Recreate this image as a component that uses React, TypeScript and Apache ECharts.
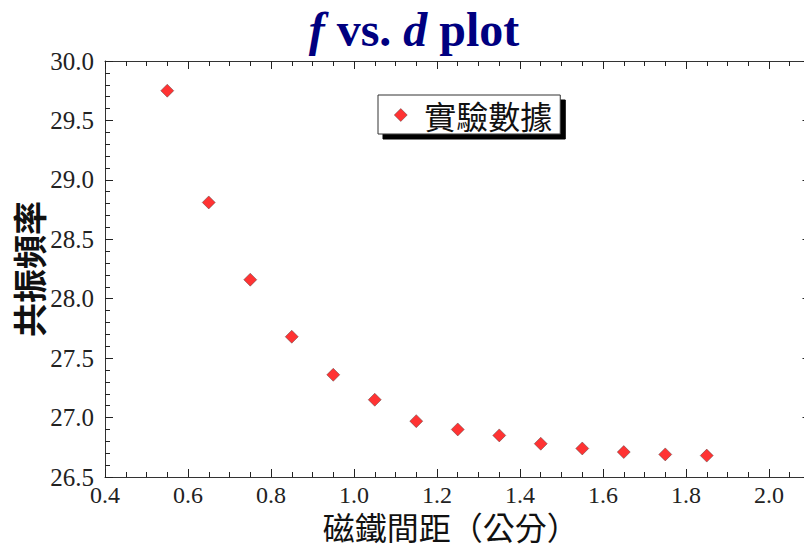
import React, { useEffect, useRef } from "react";
import * as echarts from "echarts";

const distances = [0.55, 0.65, 0.75, 0.85, 0.95, 1.05, 1.15, 1.25, 1.35, 1.45, 1.55, 1.65, 1.75, 1.85];
const frequencies = [29.75, 28.81, 28.16, 27.68, 27.36, 27.15, 26.97, 26.9, 26.85, 26.78, 26.74, 26.71, 26.69, 26.68];
const seriesName = "實驗數據";
const xAxisName = "磁鐵間距（公分）";
const yAxisName = "共振頻率";

export default function App() {
  const ref = useRef<HTMLDivElement>(null);
  useEffect(() => {
    document.body.style.margin = "0";
    if (!ref.current) return;
    const chart = echarts.init(ref.current, null, { renderer: "svg" });
    const serif = "'Times New Roman', 'Liberation Serif', serif";
    const cjk = "Noto Sans CJK TC";
    const axisLine = { show: true, lineStyle: { color: "#333", width: 1 } };
    const tick = { show: true, inside: true, length: 8, lineStyle: { color: "#222", width: 1 } };
    const minorTick = { show: true, length: 5, lineStyle: { color: "#222", width: 1 } };
    const data = distances.map((d, i) => [d, frequencies[i]]);
    const labelStyle = { fontFamily: serif, fontWeight: "normal", fontStyle: "normal", color: "#222" };
    chart.setOption({
      animation: false,
      backgroundColor: "#fff",
      textStyle: { fontFamily: serif },
      title: {
        text: "{i|f} {n|vs.} {i|d} {n|plot}",
        left: 409,
        textAlign: "center",
        top: 0,
        textStyle: {
          fontFamily: serif,
          fontSize: 48,
          fontWeight: "bold",
          color: "#000080",
          rich: {
            i: { fontFamily: serif, fontSize: 48, fontWeight: "bold", fontStyle: "italic", color: "#000080" },
            n: { fontFamily: serif, fontSize: 48, fontWeight: "bold", color: "#000080" },
          },
        },
      },
      legend: {
        left: 378,
        top: 95,
        orient: "vertical",
        backgroundColor: "#fff",
        borderColor: "#333",
        borderWidth: 1,
        padding: [4, 8, 3, 16],
        shadowColor: "#000",
        shadowOffsetX: 5,
        shadowOffsetY: 5,
        shadowBlur: 0,
        itemWidth: 13,
        itemHeight: 13,
        itemGap: 0,
        textStyle: { fontFamily: cjk, fontSize: 32, color: "#111", padding: [0, 0, 0, 12] },
        data: [
          {
            name: seriesName,
            icon: "diamond",
            itemStyle: { color: "#ff0000", borderColor: "#333", borderWidth: 0.5 },
          },
        ],
      },
      grid: {
        left: 105,
        top: 61,
        width: 705.5,
        height: 416,
        containLabel: false,
        outerBoundsMode: "none",
      },
      xAxis: [
        {
          type: "value",
          min: 0.4,
          max: 2.1,
          interval: 0.2,
          name: xAxisName,
          nameLocation: "middle",
          nameGap: 34,
          nameMoveOverlap: false,
          nameTextStyle: { fontFamily: cjk, fontSize: 32, lineHeight: 30, color: "#111", padding: [0, 0, 0, -14] },
          axisLine,
          axisTick: tick,
          minorTick: { ...minorTick, splitNumber: 4 },
          splitLine: { show: false },
          axisLabel: {
            ...labelStyle,
            fontSize: 24,
            lineHeight: 22,
            margin: 7,
            showMaxLabel: false,
            formatter: (v: number) => v.toFixed(1),
          },
        },
        {
          type: "value",
          position: "top",
          min: 0.4,
          max: 2.1,
          interval: 0.2,
          axisLine,
          axisTick: tick,
          minorTick: { ...minorTick, splitNumber: 4 },
          splitLine: { show: false },
          axisLabel: { show: false },
        },
      ],
      yAxis: [
        {
          type: "value",
          min: 26.5,
          max: 30,
          interval: 0.5,
          name: yAxisName,
          nameLocation: "middle",
          nameGap: 60,
          nameRotate: 90,
          nameMoveOverlap: false,
          nameTextStyle: { fontFamily: cjk, fontSize: 34, fontWeight: "bold", color: "#111" },
          axisLine,
          axisTick: tick,
          minorTick: { ...minorTick, splitNumber: 5 },
          splitLine: { show: false },
          axisLabel: {
            ...labelStyle,
            fontSize: 25,
            margin: 11,
            formatter: (v: number) => v.toFixed(1),
          },
        },
        {
          type: "value",
          position: "right",
          min: 26.5,
          max: 30,
          interval: 0.5,
          axisLine,
          axisTick: tick,
          minorTick: { ...minorTick, splitNumber: 5 },
          splitLine: { show: false },
          axisLabel: { show: false },
        },
      ],
      series: [
        {
          name: seriesName,
          type: "scatter",
          symbol: "diamond",
          symbolSize: 13,
          itemStyle: { color: "#ff0000", borderColor: "#333", borderWidth: 0.5 },
          data,
        },
      ],
    });
    return () => chart.dispose();
  }, []);
  return <div ref={ref} style={{ width: 804, height: 548 }} />;
}
